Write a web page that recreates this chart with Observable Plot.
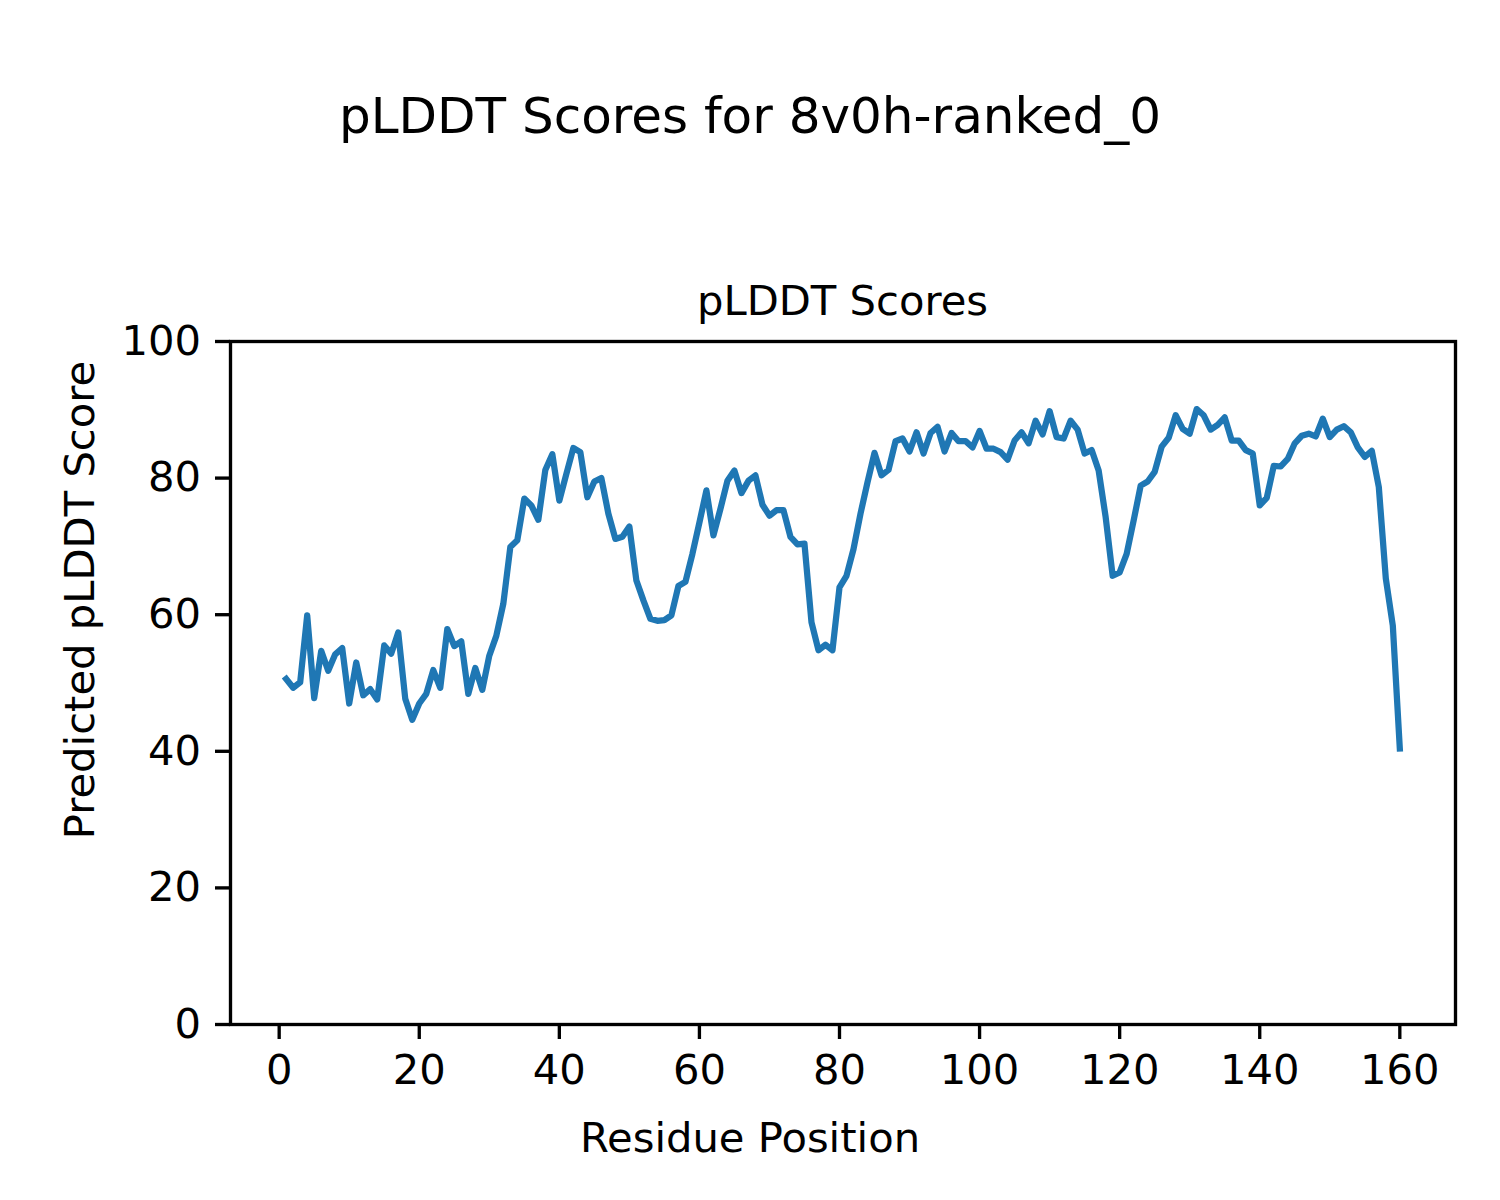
<!DOCTYPE html>
<html>
<head>
<meta charset="utf-8">
<script src="https://cdn.jsdelivr.net/npm/d3@7"></script>
<script src="https://cdn.jsdelivr.net/npm/@observablehq/plot@0.6"></script>
<style>
  html, body { margin: 0; padding: 0; background: #fff; }
  #chart { width: 1500px; height: 1200px; }
</style>
</head>
<body>
<div id="chart"></div>
<script>
const suptitle = "pLDDT Scores for 8v0h-ranked_0";
const axesTitle = "pLDDT Scores";
const xLabel = "Residue Position";
const yLabel = "Predicted pLDDT Score";
const xTicks = [0, 20, 40, 60, 80, 100, 120, 140, 160];
const yTicks = [0, 20, 40, 60, 80, 100];

const plddt = [
  50.6, 49.3, 50.1, 59.9, 47.8, 54.7, 51.8, 54.2, 55.1, 47.0,
  53.0, 48.2, 49.1, 47.6, 55.5, 54.3, 57.4, 47.7, 44.6, 47.0,
  48.4, 51.9, 49.3, 57.9, 55.4, 56.1, 48.4, 52.2, 49.0, 54.0,
  56.9, 61.6, 69.9, 70.9, 77.0, 76.0, 73.9, 81.2, 83.5, 76.7,
  80.6, 84.4, 83.8, 77.2, 79.5, 80.0, 74.8, 71.1, 71.4, 72.9,
  65.0, 62.1, 59.4, 59.1, 59.2, 59.9, 64.2, 64.8, 68.9, 73.5,
  78.2, 71.6, 75.5, 79.6, 81.1, 77.8, 79.6, 80.4, 76.1, 74.5,
  75.3, 75.3, 71.4, 70.3, 70.4, 58.9, 54.8, 55.6, 54.8, 64.0,
  65.7, 69.6, 74.8, 79.4, 83.7, 80.4, 81.2, 85.4, 85.8, 83.9,
  86.7, 83.6, 86.6, 87.5, 83.9, 86.6, 85.4, 85.4, 84.5, 86.9,
  84.3, 84.3, 83.8, 82.7, 85.5, 86.7, 85.1, 88.4, 86.4, 89.8,
  86.0, 85.8, 88.4, 87.1, 83.6, 84.1, 81.1, 74.3, 65.7, 66.2,
  68.9, 73.8, 78.9, 79.5, 80.9, 84.6, 85.9, 89.2, 87.2, 86.5,
  90.1, 89.2, 87.1, 87.8, 88.9, 85.5, 85.5, 84.1, 83.6, 76.0,
  77.1, 81.8, 81.7, 82.8, 85.1, 86.2, 86.5, 86.1, 88.7, 86.0,
  87.1, 87.6, 86.7, 84.5, 83.1, 84.0, 78.7, 65.3, 58.4, 40.4
];

const FONT = "DejaVu Sans, sans-serif";
const W = 1500, H = 1200;

const chart = Plot.plot({
  width: W,
  height: H,
  marginLeft: 230,
  marginRight: 45,
  marginTop: 341,
  marginBottom: 176,
  style: { fontFamily: FONT, background: "white", color: "black" },
  x: { domain: [-6.95, 167.95] },
  y: { domain: [0, 100] },
  marks: [
    Plot.line(plddt, {
      x: (d, i) => i + 1,
      y: d => d,
      stroke: "#1f77b4",
      strokeWidth: 6.25,
      strokeLinejoin: "round",
      strokeLinecap: "square"
    }),
    Plot.frame({ stroke: "black", strokeWidth: 3.33 }),
    Plot.axisX({
      ticks: xTicks,
      tickSize: 15,
      tickPadding: 14.5,
      fontSize: 41.7,
      strokeWidth: 3.33,
      label: null,
      tickFormat: d => String(d)
    }),
    Plot.axisY({
      ticks: yTicks,
      tickSize: 15,
      tickPadding: 14.5,
      fontSize: 41.7,
      strokeWidth: 3.33,
      label: null,
      tickFormat: d => String(d)
    })
  ]
});

document.getElementById("chart").appendChild(chart);

const svg = d3.select(chart);
svg.append("text")
  .attr("x", 750).attr("y", 133)
  .attr("text-anchor", "middle")
  .style("font-family", FONT).style("font-size", "50px").attr("fill", "black")
  .text(suptitle);
svg.append("text")
  .attr("x", (230 + 1455) / 2).attr("y", 315)
  .attr("text-anchor", "middle")
  .style("font-family", FONT).style("font-size", "41.7px").attr("fill", "black")
  .text(axesTitle);
svg.append("text")
  .attr("x", 750).attr("y", 1152)
  .attr("text-anchor", "middle")
  .style("font-family", FONT).style("font-size", "41.7px").attr("fill", "black")
  .text(xLabel);
svg.append("text")
  .attr("transform", "translate(94,600) rotate(-90)")
  .attr("text-anchor", "middle")
  .style("font-family", FONT).style("font-size", "41.7px").attr("fill", "black")
  .text(yLabel);
</script>
</body>
</html>
